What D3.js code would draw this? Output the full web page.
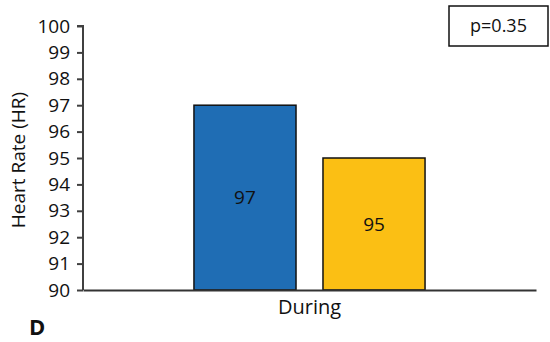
<!DOCTYPE html>
<html>
<head>
<meta charset="utf-8">
<script src="https://cdn.jsdelivr.net/npm/d3@7"></script>
<style>
  html, body { margin: 0; padding: 0; background: #fff; }
  svg { display: block; font-family: "Open Sans", "Noto Sans", sans-serif; }
</style>
</head>
<body>
<svg id="chart" width="550" height="342"></svg>
<script>
// Heart rate during the session, two groups
const categories = ["During"];
const seriesNames = ["Group A", "Group B"];
const seriesValues = [97, 95];
const seriesColors = ["#1f6db4", "#fbbf14"];
const yTicks = [90, 91, 92, 93, 94, 95, 96, 97, 98, 99, 100];
const pLabel = "p=0.35";
const yTitle = "Heart Rate (HR)";
const panelLetter = "D";

const svg = d3.select("#chart");
const margin = { left: 83, right: 14 };
const W = 550;

const x = d3.scaleBand().domain(categories).range([margin.left, W - margin.right]);
const xInner = d3.scaleBand().domain(seriesNames)
  .range([0, x.bandwidth()]).paddingInner(0.209).paddingOuter(0.86);
const y = d3.scaleLinear().domain([90, 100]).range([290, 26]);

const data = seriesNames.map((s, i) => ({ cat: categories[0], name: s, value: seriesValues[i], color: seriesColors[i] }));

// Bars
const g = svg.append("g");
g.selectAll("rect.bar").data(data).enter().append("rect")
  .attr("class", "bar")
  .attr("x", d => x(d.cat) + xInner(d.name))
  .attr("y", d => y(d.value))
  .attr("width", xInner.bandwidth())
  .attr("height", d => y(90) - y(d.value))
  .attr("fill", d => d.color)
  .attr("stroke", "#111")
  .attr("stroke-width", 1.5);

// Value labels inside the bars
g.selectAll("text.val").data(data).enter().append("text")
  .attr("class", "val")
  .attr("x", d => x(d.cat) + xInner(d.name) + xInner.bandwidth() / 2)
  .attr("y", d => (y(d.value) + y(90)) / 2)
  .attr("dy", "0.35em")
  .attr("text-anchor", "middle")
  .attr("font-size", 19)
  .attr("fill", "#111")
  .text(d => d.value);

// Y axis
const yAxis = d3.axisLeft(y).tickValues(yTicks).tickSize(6).tickPadding(7).tickFormat(d3.format("d"));
const ya = svg.append("g").attr("transform", `translate(${margin.left},0)`).call(yAxis);
ya.select(".domain").attr("stroke", "#404040").attr("stroke-width", 2).attr("d", `M-6,${y(100)}H0V${y(90)}`);
ya.selectAll(".tick line").attr("stroke", "#404040").attr("stroke-width", 2);
ya.selectAll(".tick text").attr("font-size", 19).attr("fill", "#111")
  .attr("font-family", "'Open Sans', sans-serif");

// X axis
const xAxis = d3.axisBottom(x).tickSize(0).tickPadding(10);
const xa = svg.append("g").attr("transform", `translate(0,${y(90)})`).call(xAxis);
xa.select(".domain").attr("stroke", "#333").attr("stroke-width", 2);
xa.selectAll(".tick text").attr("font-size", 20).attr("fill", "#111")
  .attr("font-family", "'Open Sans', sans-serif");

// Y title
svg.append("text")
  .attr("transform", `translate(25,${(y(90) + y(100)) / 2 + 2}) rotate(-90)`)
  .attr("text-anchor", "middle")
  .attr("font-size", 19)
  .attr("fill", "#111")
  .text(yTitle);

// p-value box
const box = svg.append("g").attr("transform", "translate(449,6)");
box.append("rect").attr("width", 99).attr("height", 40)
  .attr("fill", "#fff").attr("stroke", "#111").attr("stroke-width", 1.5);
box.append("text").attr("x", 49.5).attr("y", 20).attr("dy", "0.35em")
  .attr("text-anchor", "middle").attr("font-size", 18).attr("fill", "#111").text(pLabel);

// Panel letter
svg.append("text").attr("x", 29).attr("y", 335)
  .attr("font-size", 22).attr("font-weight", "bold").attr("fill", "#111").text(panelLetter);
</script>
</body>
</html>
